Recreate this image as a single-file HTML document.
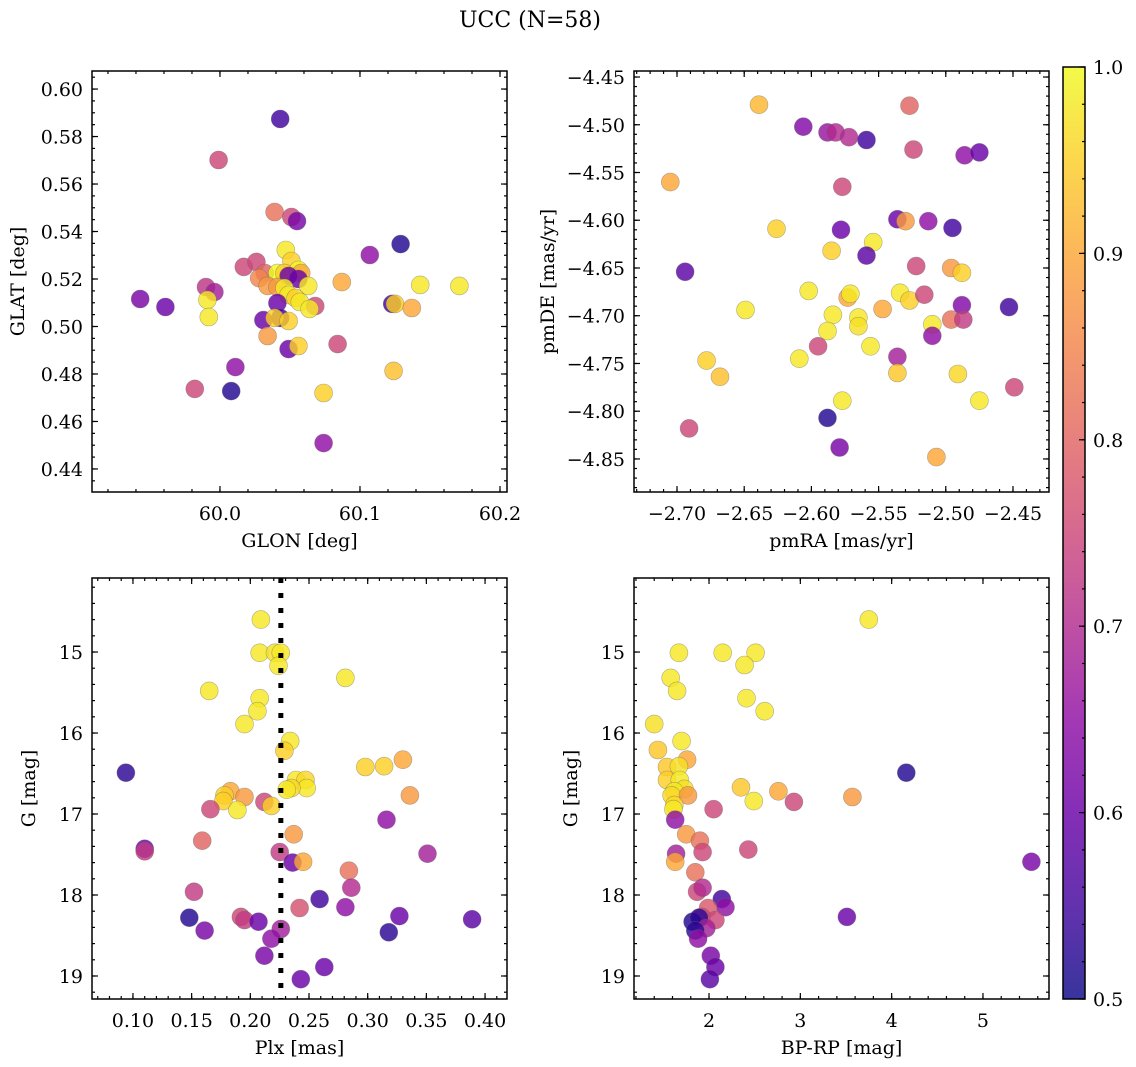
<!DOCTYPE html>
<html><head><meta charset="utf-8"><style>
html,body{margin:0;padding:0;background:#fff;}
svg{display:block;font-family:"DejaVu Serif","Liberation Serif",serif;}
</style></head><body>
<svg id="fig" width="1136" height="1067" viewBox="0 0 1136 1067" xmlns="http://www.w3.org/2000/svg">
<text x="530" y="27" font-size="22" text-anchor="middle">UCC (N=58)</text>
</svg>
<script>
// Panel 1: GLON / GLAT
const glon = [60.043,59.999,60.039,60.051,60.055,60.129,60.107,60.047,60.017,60.026,60.051,60.032,60.028,60.041,60.046,60.056,60.058,60.056,60.049,60.063,60.034,60.041,60.046,60.049,60.054,60.057,60.068,60.064,60.041,60.087,60.143,60.171,60.123,60.125,60.137,59.990,59.996,59.991,59.992,59.943,59.961,60.031,60.043,60.039,60.049,60.034,60.049,60.056,60.084,60.011,60.124,59.982,60.008,60.074,60.074];
const glat = [0.5874,0.5701,0.5482,0.5461,0.5444,0.5347,0.5301,0.5322,0.5251,0.5272,0.5276,0.5225,0.5204,0.5225,0.5225,0.5238,0.5225,0.5200,0.5213,0.5171,0.5171,0.5166,0.5162,0.5133,0.5120,0.5103,0.5086,0.5074,0.5099,0.5187,0.5175,0.5171,0.5095,0.5095,0.5078,0.5166,0.5145,0.5112,0.5040,0.5116,0.5082,0.5027,0.5036,0.5036,0.5023,0.4960,0.4905,0.4918,0.4926,0.4829,0.4813,0.4737,0.4728,0.4720,0.4509];
const prob1 = [0.55,0.75,0.82,0.75,0.62,0.52,0.65,0.98,0.75,0.75,0.95,0.8,0.85,1.0,0.95,1.0,0.9,0.6,0.6,0.98,0.88,0.88,0.98,0.98,0.95,0.98,0.75,0.98,0.6,0.9,0.98,0.98,0.55,0.95,0.9,0.72,0.68,0.98,0.98,0.62,0.6,0.6,0.55,0.95,0.95,0.88,0.6,0.95,0.75,0.65,0.93,0.75,0.52,0.95,0.65];
// Panel 2: pmRA / pmDE
const pmra = [-2.639,-2.527,-2.606,-2.588,-2.582,-2.572,-2.559,-2.524,-2.486,-2.475,-2.705,-2.577,-2.536,-2.530,-2.513,-2.495,-2.578,-2.626,-2.554,-2.585,-2.559,-2.694,-2.522,-2.496,-2.488,-2.602,-2.573,-2.571,-2.534,-2.527,-2.516,-2.488,-2.453,-2.649,-2.547,-2.584,-2.565,-2.565,-2.588,-2.496,-2.487,-2.510,-2.510,-2.595,-2.556,-2.536,-2.609,-2.678,-2.668,-2.536,-2.491,-2.449,-2.577,-2.475,-2.588,-2.691,-2.579,-2.507];
const pmde = [-4.479,-4.480,-4.502,-4.508,-4.508,-4.513,-4.516,-4.526,-4.532,-4.529,-4.560,-4.565,-4.599,-4.601,-4.601,-4.608,-4.610,-4.609,-4.623,-4.632,-4.637,-4.654,-4.648,-4.650,-4.655,-4.674,-4.681,-4.677,-4.676,-4.684,-4.678,-4.689,-4.691,-4.694,-4.693,-4.699,-4.702,-4.711,-4.716,-4.704,-4.704,-4.709,-4.721,-4.732,-4.732,-4.743,-4.745,-4.747,-4.764,-4.760,-4.761,-4.775,-4.789,-4.789,-4.807,-4.818,-4.838,-4.848];
const prob2 = [0.92,0.8,0.63,0.66,0.7,0.7,0.55,0.75,0.65,0.6,0.9,0.75,0.6,0.88,0.65,0.55,0.6,0.95,0.98,0.95,0.58,0.58,0.75,0.88,0.95,0.98,0.9,0.98,0.98,0.95,0.75,0.63,0.55,0.98,0.9,0.98,0.98,0.97,0.98,0.82,0.73,0.98,0.65,0.75,0.98,0.68,0.98,0.95,0.93,0.94,0.96,0.75,0.98,0.98,0.52,0.75,0.62,0.9];
// Panel 3: Plx / G
const plx = [0.209,0.208,0.221,0.226,0.224,0.281,0.165,0.208,0.206,0.195,0.234,0.229,0.094,0.298,0.314,0.330,0.239,0.247,0.248,0.235,0.231,0.183,0.178,0.177,0.195,0.212,0.218,0.189,0.166,0.336,0.316,0.237,0.159,0.110,0.110,0.225,0.351,0.236,0.245,0.284,0.286,0.152,0.259,0.242,0.281,0.148,0.192,0.195,0.207,0.327,0.389,0.161,0.226,0.318,0.218,0.212,0.263,0.243];
const gmag3 = [14.60,15.01,15.01,15.01,15.17,15.32,15.48,15.57,15.73,15.89,16.10,16.22,16.49,16.42,16.41,16.33,16.58,16.58,16.68,16.68,16.70,16.72,16.77,16.84,16.79,16.85,16.90,16.95,16.94,16.77,17.07,17.25,17.33,17.43,17.46,17.47,17.49,17.60,17.59,17.70,17.91,17.96,18.05,18.16,18.15,18.28,18.27,18.31,18.33,18.26,18.30,18.44,18.42,18.46,18.54,18.75,18.89,19.04];
const prob3 = [0.98,0.98,0.97,0.98,0.98,0.98,0.98,0.98,0.98,0.98,0.98,0.95,0.53,0.95,0.95,0.9,0.98,0.96,0.98,0.96,0.98,0.9,0.95,0.95,0.88,0.75,0.95,0.98,0.75,0.88,0.65,0.88,0.8,0.6,0.73,0.73,0.68,0.6,0.9,0.82,0.7,0.73,0.55,0.77,0.65,0.52,0.75,0.73,0.6,0.6,0.58,0.62,0.68,0.53,0.65,0.62,0.6,0.6];
const plxLine = [0.226];
// Panel 4: BP-RP / G
const bprp = [3.75,1.67,2.15,2.51,2.39,1.58,1.65,2.41,2.61,1.40,1.70,1.44,1.76,1.54,1.67,1.54,1.68,1.73,1.62,1.59,1.77,1.62,1.61,2.35,2.49,2.76,2.93,3.57,2.05,4.16,1.63,1.75,1.90,1.64,1.63,1.93,2.43,5.53,1.85,1.87,1.93,2.14,2.18,1.99,3.51,1.92,2.07,1.82,1.89,1.97,1.85,1.88,2.02,2.07,2.01];
const gmag4 = [14.60,15.01,15.01,15.01,15.16,15.32,15.48,15.57,15.73,15.89,16.10,16.21,16.33,16.42,16.41,16.58,16.58,16.69,16.72,16.77,16.77,16.89,16.94,16.67,16.84,16.72,16.85,16.79,16.94,16.49,17.07,17.25,17.33,17.49,17.59,17.47,17.44,17.59,17.72,17.96,17.91,18.05,18.15,18.16,18.27,18.27,18.31,18.33,18.28,18.41,18.44,18.54,18.75,18.89,19.04];
const prob4 = [0.98,0.98,0.98,0.98,0.98,0.98,0.98,0.98,0.98,0.97,0.98,0.94,0.9,0.94,0.97,0.95,0.98,0.97,0.98,0.96,0.88,0.96,0.98,0.94,0.98,0.9,0.75,0.88,0.75,0.52,0.65,0.88,0.82,0.68,0.9,0.75,0.75,0.62,0.82,0.75,0.7,0.55,0.65,0.78,0.6,0.75,0.75,0.52,0.53,0.68,0.53,0.65,0.62,0.6,0.58];
// tick labels
const p1xTicks = [60.0,60.1,60.2];
const p1yTicks = [0.44,0.46,0.48,0.50,0.52,0.54,0.56,0.58,0.60];
const p2xTicks = [-2.70,-2.65,-2.60,-2.55,-2.50,-2.45];
const p2yTicks = [-4.85,-4.80,-4.75,-4.70,-4.65,-4.60,-4.55,-4.50,-4.45];
const p3xTicks = [0.10,0.15,0.20,0.25,0.30,0.35,0.40];
const gTicks = [15,16,17,18,19];
const p4xTicks = [2,3,4,5];
const cbTicks = [0.5,0.6,0.7,0.8,0.9,1.0];

const NS = "http://www.w3.org/2000/svg";
const svg = document.getElementById('fig');
const FS = 19;
function mk(tag, attrs, parent){const e=document.createElementNS(NS,tag);for(const k in attrs)e.setAttribute(k,attrs[k]);(parent||svg).appendChild(e);return e;}
const stops=[[13,8,135],[65,4,157],[106,0,168],[143,13,164],[177,42,144],[204,71,120],[225,100,98],[242,132,75],[252,166,54],[252,206,37],[240,249,33]];
function plasma(t){t=Math.max(0,Math.min(1,t))*10;const i=Math.min(9,Math.floor(t)),f=t-i;const a=stops[i],b=stops[i+1];return 'rgb('+[0,1,2].map(k=>Math.round(a[k]+(b[k]-a[k])*f)).join(',')+')';}
function cmap(p){return plasma((p-0.5)/0.5);}
const fmt=(v,d)=>(v<0?'\u2212':'')+Math.abs(v).toFixed(d);

function panel(o){
  const g=mk('g',{});
  
  
  const X=v=>o.x0+(v-o.xd[0])/(o.xd[1]-o.xd[0])*(o.x1-o.x0);
  const Y=v=>o.inv? o.y0+(v-o.yd[0])/(o.yd[1]-o.yd[0])*(o.y1-o.y0) : o.y1-(v-o.yd[0])/(o.yd[1]-o.yd[0])*(o.y1-o.y0);
  const cid='clip'+o.name;
  const cp=mk('clipPath',{id:cid},g);mk('rect',{x:o.x0,y:o.y0,width:o.x1-o.x0,height:o.y1-o.y0},cp);
  const pts=mk('g',{'clip-path':'url(#'+cid+')'},g);
  for(let i=0;i<o.xs.length;i++){
    const c=mk('circle',{cx:X(o.xs[i]).toFixed(1),cy:Y(o.ys[i]).toFixed(1),r:9,fill:cmap(o.ps[i]),'fill-opacity':0.82,stroke:'#666','stroke-opacity':0.5,'stroke-width':0.6},pts);
    
    
  }
  if(o.vline){for(const v of o.vline){const l=mk('line',{x1:X(v),x2:X(v),y1:o.y0,y2:o.y1,stroke:'#000','stroke-width':5,'stroke-dasharray':'5,10'},pts);
    
    }}
  const tk=mk('g',{stroke:'#000','stroke-width':1.2},g);
  function minors(d,step,f){const s=Math.ceil(d[0]/step-1e-9);for(let k=s;k*step<=d[1]+1e-9;k++){const v=k*step;f(v,3);}}
  const xt=(v,L)=>{const x=X(v);mk('line',{x1:x,x2:x,y1:o.y1,y2:o.y1-L},tk);mk('line',{x1:x,x2:x,y1:o.y0,y2:o.y0+L},tk);};
  const yt=(v,L)=>{const y=Y(v);mk('line',{x1:o.x0,x2:o.x0+L,y1:y,y2:y},tk);mk('line',{x1:o.x1,x2:o.x1-L,y1:y,y2:y},tk);};
  minors(o.xd,o.xm,xt);minors([Math.min(...o.yd),Math.max(...o.yd)],o.ym,yt);
  o.xt.forEach(v=>{xt(v,6);const t=mk('text',{x:X(v),y:o.y1+28,'font-size':FS,'text-anchor':'middle'},g);t.textContent=fmt(v,o.xdp);
    });
  o.yt.forEach(v=>{yt(v,6);const t=mk('text',{x:o.x0-9,y:Y(v)+7,'font-size':FS,'text-anchor':'end'},g);t.textContent=fmt(v,o.ydp);
    });
  mk('rect',{x:o.x0,y:o.y0,width:o.x1-o.x0,height:o.y1-o.y0,fill:'none',stroke:'#000','stroke-width':1.5},g);
  const xl=mk('text',{x:(o.x0+o.x1)/2,y:o.y1+55,'font-size':FS,'text-anchor':'middle'},g);xl.textContent=o.xlab;
  
  const yx=o.x0-(o.ylx), yy=(o.y0+o.y1)/2;
  const yl=mk('text',{x:yx,y:yy,'font-size':FS,'text-anchor':'middle',transform:'rotate(-90 '+yx+' '+yy+')'},g);yl.textContent=o.ylab;
  
}
panel({name:'glon-glat-panel',x0:92,x1:507,y0:71,y1:492,xd:[59.9086,60.2050],yd:[0.4303,0.6076],xs:glon,ys:glat,ps:prob1,xt:p1xTicks,yt:p1yTicks,xm:0.02,ym:0.005,xdp:1,ydp:2,xlab:'GLON [deg]',ylab:'GLAT [deg]',ylx:68});
panel({name:'proper-motion-panel',x0:634,x1:1049,y0:71,y1:492,xd:[-2.7320,-2.4232],yd:[-4.8846,-4.4437],xs:pmra,ys:pmde,ps:prob2,xt:p2xTicks,yt:p2yTicks,xm:0.01,ym:0.01,xdp:2,ydp:2,xlab:'pmRA [mas/yr]',ylab:'pmDE [mas/yr]',ylx:80});
panel({name:'plx-g-panel',x0:92,x1:507,y0:578,y1:999,xd:[0.0651,0.4187],yd:[14.086,19.284],inv:true,xs:plx,ys:gmag3,ps:prob3,xt:p3xTicks,yt:gTicks,xm:0.01,ym:0.2,xdp:2,ydp:0,xlab:'Plx [mas]',ylab:'G [mag]',ylx:57,vline:plxLine});
panel({name:'cmd-panel',x0:634,x1:1049,y0:578,y1:999,xd:[1.1785,5.723],yd:[14.086,19.284],inv:true,xs:bprp,ys:gmag4,ps:prob4,xt:p4xTicks,yt:gTicks,xm:0.2,ym:0.2,xdp:0,ydp:0,xlab:'BP-RP [mag]',ylab:'G [mag]',ylx:57});

// colorbar
const cb=mk('g',{});


const defs=mk('defs',{},cb);
const lg=mk('linearGradient',{id:'cbg',x1:0,y1:1,x2:0,y2:0},defs);
for(let i=0;i<=10;i++){mk('stop',{offset:(i/10),'stop-color':plasma(i/10),'stop-opacity':0.82},lg);}
const cy0=67,cy1=999,cx0=1063,cx1=1085;
mk('rect',{x:cx0,y:cy0,width:cx1-cx0,height:cy1-cy0,fill:'url(#cbg)'},cb);
const CY=v=>cy1-(v-0.5)/0.5*(cy1-cy0);
for(let k=25;k<=50;k++){const v=k/50;const y=CY(v);mk('line',{x1:cx1,x2:cx1-3,y1:y,y2:y,stroke:'#000','stroke-width':1.2},cb);}
cbTicks.forEach(v=>{const y=CY(v);mk('line',{x1:cx1,x2:cx1-6,y1:y,y2:y,stroke:'#000','stroke-width':1.2},cb);
  const t=mk('text',{x:1093,y:y+7,'font-size':FS},cb);t.textContent=v.toFixed(1);
  });
mk('rect',{x:cx0,y:cy0,width:cx1-cx0,height:cy1-cy0,fill:'none',stroke:'#000','stroke-width':1.5},cb);
</script>
</body></html>
